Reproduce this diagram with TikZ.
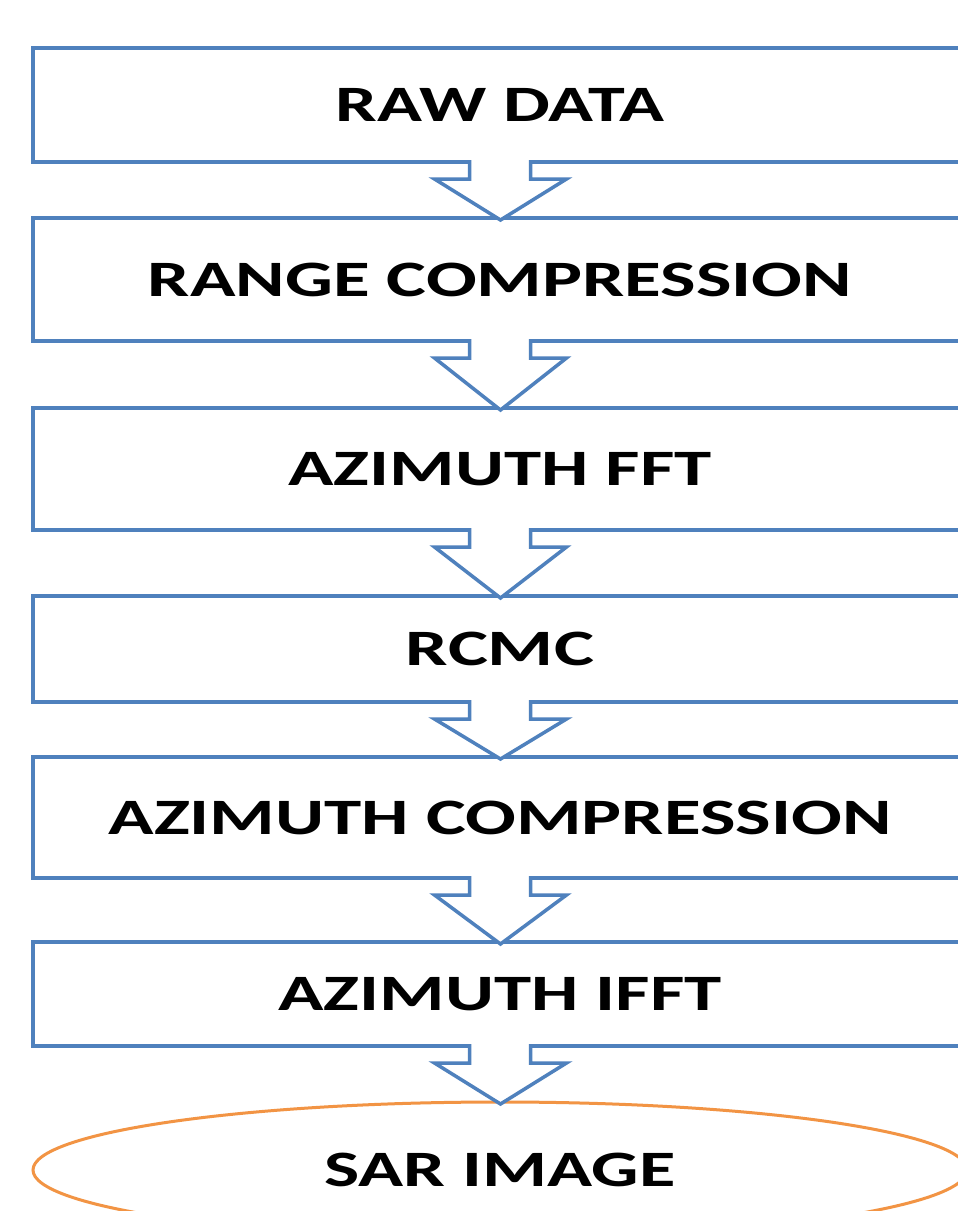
\documentclass[tikz,border=0pt]{standalone}
\usepackage{fontspec}
\setmainfont{Carlito}
\usepackage{graphicx}
\usetikzlibrary{shapes.geometric,calc}
\definecolor{boxblue}{RGB}{79,129,189}
\definecolor{imgorange}{RGB}{242,148,68}
\newcommand\flowarrow[2]{%
  \filldraw[flowarr] ($(#1.south)+(-30.5,-2)$) -- ++(0,19) -- ++(-35,0) -- ($(#2.north)+(0.5,2)$)
    -- ($(#1.south)+(66.5,17)$) -- ++(-36,0) -- ++(0,-19);}
\tikzset{
  box/.style={draw=boxblue, line width=4pt, fill=white, minimum width=934pt,
    minimum height=#1, inner sep=0pt, outer sep=0pt, font=\fontsize{51}{60}\selectfont\bfseries},
  flowarr/.style={draw=boxblue, fill=white, line width=3.5pt, line join=miter},
  imgnode/.style={ellipse, draw=imgorange, line width=3pt, fill=white, minimum width=934pt,
    minimum height=136pt, inner sep=0pt, outer sep=0pt, font=\fontsize{51}{60}\selectfont\bfseries}
}
\begin{document}
\begin{tikzpicture}[x=1pt,y=-1pt]
\clip (0,0) rectangle (958,1211);
\fill[white] (0,0) rectangle (958,1211);
\node[box=114pt] (b1) at (500,105) {\resizebox{328pt}{\height}{RAW DATA}};
\node[box=123pt] (b2) at (500,279.5) {\resizebox{704pt}{\height}{RANGE COMPRESSION}};
\node[box=122pt] (b3) at (500,469) {\resizebox{423pt}{\height}{AZIMUTH FFT}};
\node[box=106pt] (b4) at (500,649) {\resizebox{188pt}{\height}{RCMC}};
\node[box=121pt] (b5) at (500,817.5) {\resizebox{783pt}{\height}{AZIMUTH COMPRESSION}};
\node[box=104pt] (b6) at (500,994) {\resizebox{443pt}{\height}{AZIMUTH IFFT}};
\node[imgnode] (img) at (500,1170) {\resizebox{351pt}{\height}{SAR IMAGE}};
\flowarrow{b1}{b2}
\flowarrow{b2}{b3}
\flowarrow{b3}{b4}
\flowarrow{b4}{b5}
\flowarrow{b5}{b6}
\flowarrow{b6}{img}
\end{tikzpicture}
\end{document}
